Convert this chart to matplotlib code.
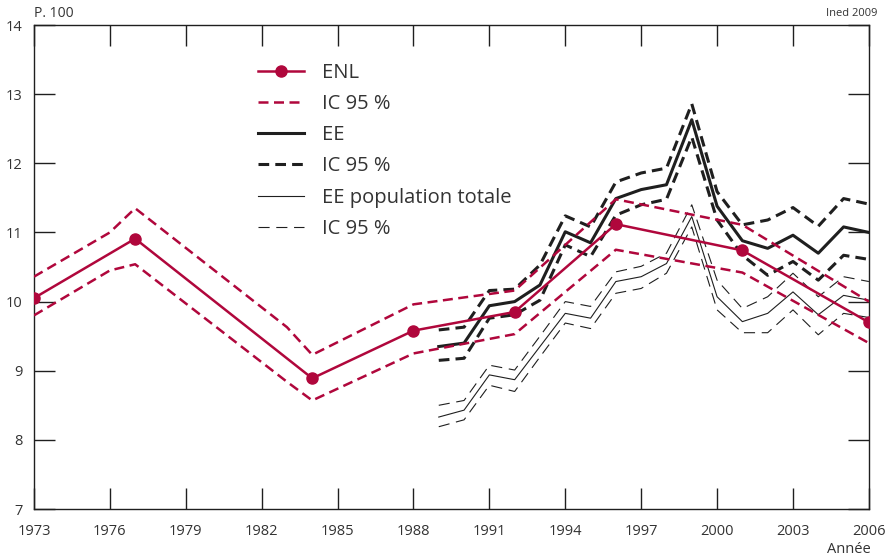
import numpy as np
import matplotlib.pyplot as plt

plt.rcParams['font.family'] = ['Open Sans', 'DejaVu Sans']

red = '#b0073c'
ink = '#1f1f1f'

# ENL (points + confidence interval)
enl_years = [1973, 1977, 1984, 1988, 1992, 1996, 2001, 2006]
enl_vals = [10.05, 10.91, 8.89, 9.58, 9.85, 11.12, 10.74, 9.70]
enl_ci_years = [1973, 1976, 1977, 1983, 1984, 1988, 1992, 1996, 2001, 2006]
enl_hi = [10.36, 11.00, 11.35, 9.63, 9.23, 9.96, 10.16, 11.48, 11.11, 10.00]
enl_lo = [9.80, 10.45, 10.54, 8.84, 8.57, 9.25, 9.53, 10.75, 10.42, 9.40]

# EE yearly series
ee_years = list(range(1989, 2007))
ee_vals = [9.35, 9.40, 9.94, 10.00, 10.24, 11.01, 10.85, 11.49, 11.62, 11.69,
           12.63, 11.38, 10.88, 10.77, 10.96, 10.70, 11.08, 11.00]
ee_hi = [9.59, 9.63, 10.16, 10.18, 10.53, 11.24, 11.08, 11.73, 11.86, 11.93,
         12.86, 11.59, 11.11, 11.18, 11.36, 11.09, 11.49, 11.41]
ee_lo = [9.15, 9.18, 9.76, 9.81, 10.02, 10.82, 10.65, 11.25, 11.40, 11.48,
         12.38, 11.18, 10.67, 10.38, 10.58, 10.31, 10.67, 10.61]

# EE population totale
pt_vals = [8.33, 8.43, 8.94, 8.87, 9.35, 9.83, 9.76, 10.29, 10.36, 10.55,
           11.23, 10.07, 9.71, 9.83, 10.14, 9.81, 10.09, 10.02]
pt_hi = [8.50, 8.57, 9.08, 9.01, 9.50, 10.00, 9.93, 10.43, 10.51, 10.70,
         11.40, 10.31, 9.90, 10.07, 10.41, 10.07, 10.36, 10.29]
pt_lo = [8.19, 8.29, 8.79, 8.70, 9.20, 9.69, 9.61, 10.12, 10.19, 10.41,
         11.08, 9.88, 9.55, 9.55, 9.88, 9.52, 9.83, 9.77]

fig = plt.figure(figsize=(8.93, 5.56), dpi=100)
ax = fig.add_axes([0.038, 0.0845, 0.935, 0.8705])

ax.plot(enl_years, enl_vals, color=red, lw=1.8, marker='o', ms=8, label='ENL', zorder=5)
ax.plot(enl_ci_years, enl_hi, color=red, lw=1.8, dashes=(4, 2.2), label='IC 95 %', zorder=4)
ax.plot(enl_ci_years, enl_lo, color=red, lw=1.8, dashes=(4, 2.2), zorder=4)

ax.plot(ee_years, ee_vals, color=ink, lw=2.2, label='EE', zorder=3)
ax.plot(ee_years, ee_hi, color=ink, lw=2.2, dashes=(3.5, 2), label='IC 95 %', zorder=3)
ax.plot(ee_years, ee_lo, color=ink, lw=2.2, dashes=(3.5, 2), zorder=3)

ax.plot(ee_years, pt_vals, color=ink, lw=0.8, label='EE population totale', zorder=2)
ax.plot(ee_years, pt_hi, color=ink, lw=0.8, dashes=(10, 6), label='IC 95 %', zorder=2)
ax.plot(ee_years, pt_lo, color=ink, lw=0.8, dashes=(10, 6), zorder=2)

ax.set_xlim(1973, 2006)
ax.set_ylim(7, 14)
ax.set_xticks(range(1973, 2007, 3))
ax.set_yticks(range(7, 15))
ax.tick_params(axis='both', direction='in', length=15, width=1, color=ink,
               labelsize=10.5, labelcolor='#333333')
ax.tick_params(axis='x', top=True, pad=11)
ax.tick_params(axis='y', right=True, pad=8)
for s in ax.spines.values():
    s.set_color(ink)
    s.set_linewidth(1)

ax.text(0, 1.008, 'P. 100', transform=ax.transAxes, fontsize=10, color='#333333',
        ha='left', va='bottom')
fig.text(0.983, 0.965, 'Ined 2009', fontsize=8, color='#333333', ha='right', va='bottom')
fig.text(0.975, 0.012, 'Année', fontsize=10.5, color='#333333', ha='right', va='center')

leg = ax.legend(loc='upper left', bbox_to_anchor=(0.268, 0.921), frameon=False,
                fontsize=14.5, handlelength=2.3, handletextpad=0.9, labelspacing=0.55,
                borderpad=0, borderaxespad=0)
for t in leg.get_texts():
    t.set_color('#333333')

fig.savefig('out.png', dpi=100)
